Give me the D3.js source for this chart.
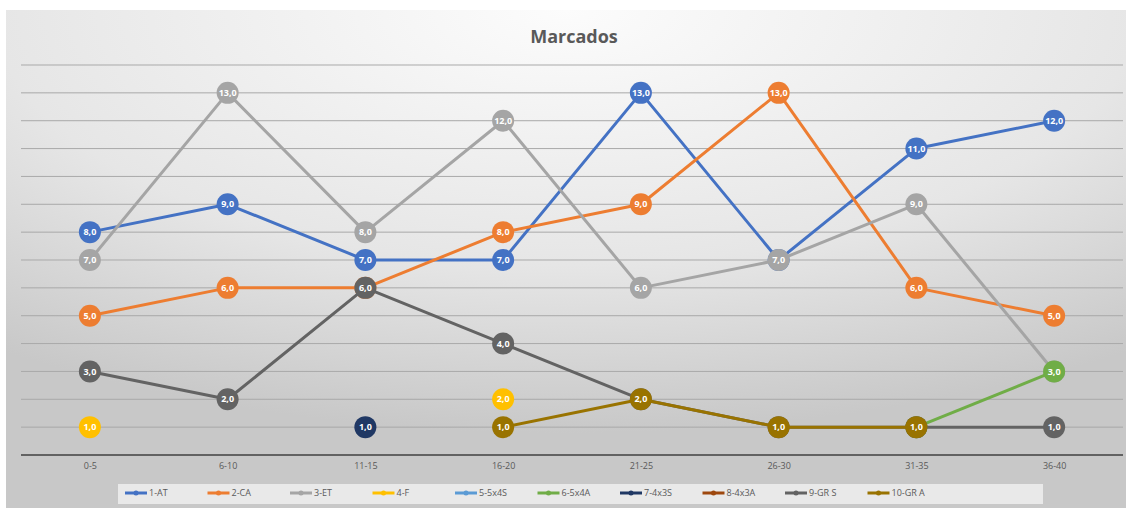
<!DOCTYPE html>
<html>
<head>
<meta charset="utf-8">
<script src="https://cdn.jsdelivr.net/npm/d3@7"></script>
<style>
  body { margin: 0; background: #ffffff; }
  svg { display: block; font-family: "Open Sans", "Noto Sans", sans-serif; }
</style>
</head>
<body>
<div id="chart"></div>
<script>

// data
let categories = ["0-5", "6-10", "11-15", "16-20", "21-25", "26-30", "31-35", "36-40"];
let seriesNames = ["1-AT", "2-CA", "3-ET", "4-F", "5-5x4S", "6-5x4A", "7-4x3S", "8-4x3A", "9-GR S", "10-GR A"];
let seriesColors = ["#4472c4", "#ed7d31", "#a5a5a5", "#ffc000", "#5b9bd5", "#70ad47", "#203864", "#9e480e", "#636363", "#997300"];
let valuesAT   = [8, 9, 7, 7, 13, 7, 11, 12];
let valuesCA   = [5, 6, 6, 8, 9, 13, 6, 5];
let valuesET   = [7, 13, 8, 12, 6, 7, 9, 3];
let valuesF    = [1, null, null, 2, null, null, null, null];
let values5x4S = [null, null, null, null, null, null, null, null];
let values5x4A = [null, null, null, null, null, null, 1, 3];
let values4x3S = [null, null, 1, null, null, null, null, null];
let values4x3A = [null, null, null, null, null, null, null, null];
let valuesGRS  = [3, 2, 6, 4, 2, 1, 1, 1];
let valuesGRA  = [null, null, null, 1, 2, 1, 1, null];
let yTicks = d3.range(1, 15);

let allValues = [valuesAT, valuesCA, valuesET, valuesF, values5x4S, values5x4A, values4x3S, values4x3A, valuesGRS, valuesGRA];
let series = seriesNames.map((name, i) => ({
    name: name,
    color: seriesColors[i],
    values: allValues[i].map((v, j) => ({cat: categories[j], value: v}))
}));

let width = 1126, height = 508;

let svg = d3.select("#chart").append("svg")
    .attr("width", width)
    .attr("height", height);

// background gradient
let defs = svg.append("defs");
let grad = defs.append("radialGradient")
    .attr("id", "bg")
    .attr("cx", "50%").attr("cy", "0%")
    .attr("r", "85%")
    .attr("fx", "50%").attr("fy", "0%");
grad.append("stop").attr("offset", "0%").attr("stop-color", "#fcfcfc");
grad.append("stop").attr("offset", "60%").attr("stop-color", "#e6e6e6");
grad.append("stop").attr("offset", "100%").attr("stop-color", "#c8c8c8");

svg.append("rect")
    .attr("x", 6).attr("y", 10)
    .attr("width", width - 6).attr("height", height - 10)
    .attr("fill", "url(#bg)");

// scales
let x = d3.scalePoint()
    .domain(categories)
    .range([21, 1123])
    .padding(0.5);

let y = d3.scaleLinear()
    .domain([0, 14])
    .range([455, 65]);

// gridlines
svg.append("g")
    .attr("class", "grid")
    .selectAll("line")
    .data(yTicks)
    .enter().append("line")
    .attr("x1", 21).attr("x2", 1123)
    .attr("y1", d => y(d)).attr("y2", d => y(d))
    .attr("stroke", "#a9a9a9")
    .attr("stroke-width", 1);

// x axis
let xAxis = d3.axisBottom(x).tickSize(0).tickPadding(8);
let xAxisGroup = svg.append("g")
    .attr("transform", "translate(0," + y(0) + ")")
    .call(xAxis);
xAxisGroup.select(".domain")
    .attr("d", "M21,0H1123")
    .attr("stroke", "#404040")
    .attr("stroke-width", 1.5);
xAxisGroup.selectAll("text")
    .attr("fill", "#595959")
    .attr("font-size", "9px")
    .style("font-family", "'Open Sans', sans-serif");

// title
svg.append("text")
    .attr("x", 574)
    .attr("y", 43)
    .attr("text-anchor", "middle")
    .attr("font-size", "18px")
    .attr("font-weight", "bold")
    .attr("fill", "#595959")
    .text("Marcados");

// lines
let line = d3.line()
    .defined(d => d.value !== null)
    .x(d => x(d.cat))
    .y(d => y(d.value));

let groups = svg.selectAll(".series")
    .data(series)
    .enter().append("g")
    .attr("class", "series");

groups.append("path")
    .attr("d", d => line(d.values))
    .attr("fill", "none")
    .attr("stroke", d => d.color)
    .attr("stroke-width", 3)
    .attr("stroke-linejoin", "round");

// markers with labels
groups.each(function (s) {
    let g = d3.select(this);
    let pts = s.values.filter(d => d.value !== null);
    let m = g.selectAll(".marker")
        .data(pts)
        .enter().append("g")
        .attr("class", "marker")
        .attr("transform", d => "translate(" + x(d.cat) + "," + y(d.value) + ")");
    m.append("circle")
        .attr("r", 11)
        .attr("fill", s.color);
    m.append("text")
        .attr("text-anchor", "middle")
        .attr("dy", "0.35em")
        .attr("font-size", "9px")
        .attr("font-weight", "bold")
        .attr("fill", "#ffffff")
        .text(d => d3.format(".1f")(d.value).replace(".", ","));
});

// legend
let legendStart = 125, itemW = 82.5, legendY = 493;
svg.append("rect")
    .attr("x", 118).attr("y", 484)
    .attr("width", 925).attr("height", 20)
    .attr("fill", "#efefef")
    .attr("opacity", 0.85);

let legend = svg.selectAll(".legend")
    .data(series)
    .enter().append("g")
    .attr("class", "legend")
    .attr("transform", (d, i) => "translate(" + (legendStart + i * itemW) + "," + legendY + ")");

legend.append("line")
    .attr("x1", 0).attr("x2", 22)
    .attr("stroke", d => d.color)
    .attr("stroke-width", 3);
legend.append("circle")
    .attr("cx", 11).attr("r", 2.5)
    .attr("fill", d => d.color);
legend.append("text")
    .attr("x", 24)
    .attr("dy", "0.35em")
    .attr("font-size", "9px")
    .attr("fill", "#595959")
    .text(d => d.name);

</script>
</body>
</html>
